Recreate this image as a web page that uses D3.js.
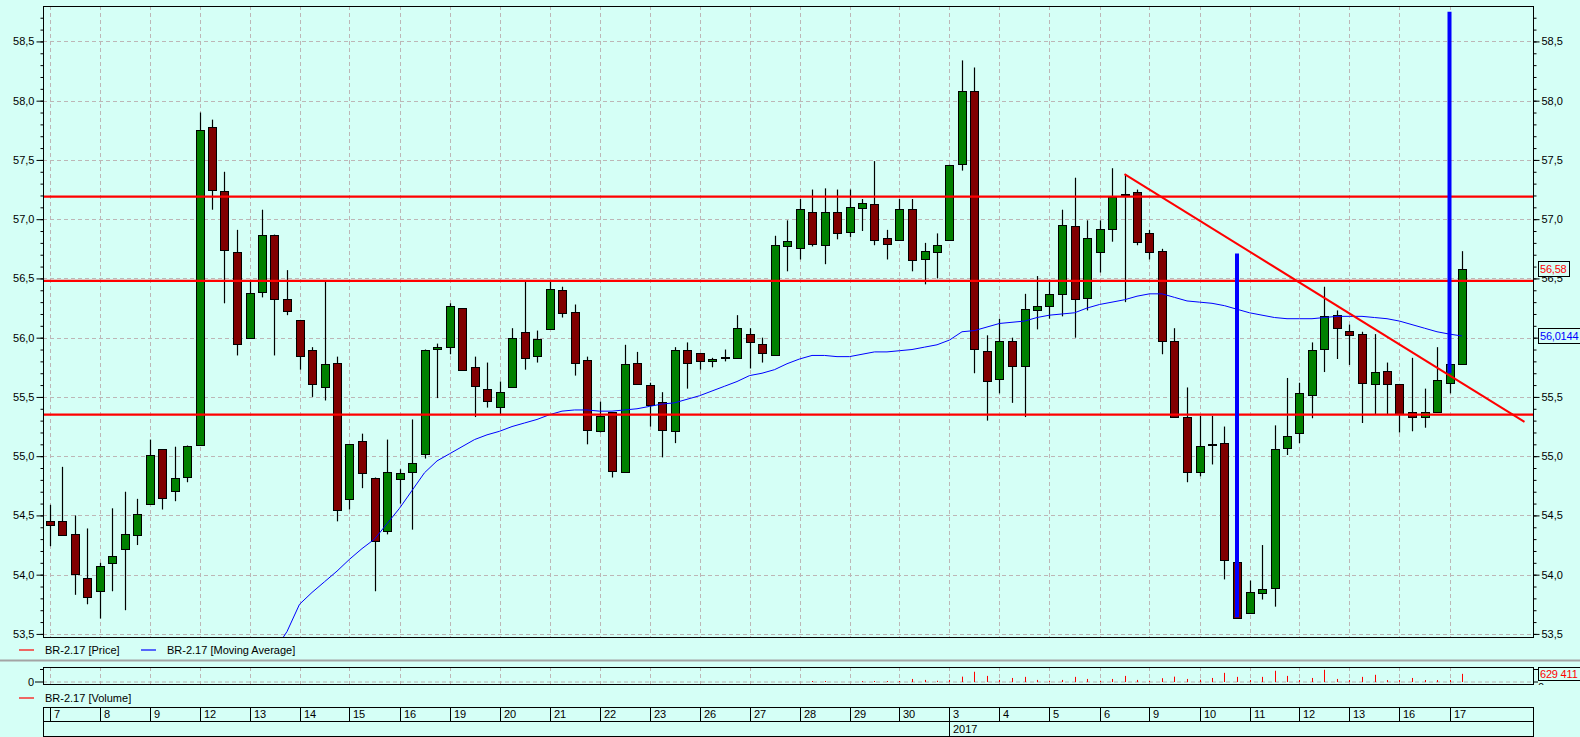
<!DOCTYPE html>
<html><head><meta charset="utf-8">
<script src="https://cdn.jsdelivr.net/npm/d3@7"></script>
<style>
body{margin:0;background:#d5fff6;overflow:hidden}
svg{display:block}
text{font-family:"Liberation Sans",Arial,sans-serif;font-size:11px;fill:#000}
</style></head>
<body><svg id="c" width="1580" height="737"></svg>
<script>
// ---------------- DATA ----------------
const days = ["7","8","9","12","13","14","15","16","19","20","21","22","23","26","27","28","29","30","3","4","5","6","9","10","11","12","13","16","17"];
const candlesPerDay = 4;
const yearLabel = "2017";
const yearStartDay = 18;

const open  = [54.45,54.45,54.34,53.97,53.86,54.10,54.21,54.33,54.60,55.06,54.71,54.83,55.09,57.78,57.24,56.72,56.00,56.39,56.87,56.33,
  56.15,55.90,55.59,55.79,54.64,55.13,54.82,54.37,54.81,54.86,55.02,55.90,55.92,56.25,55.75,55.57,55.41,55.59,56.05,55.85,
  56.07,56.40,56.22,55.81,55.21,55.37,54.87,55.79,55.60,55.46,55.22,55.90,55.87,55.80,55.84,55.83,56.03,55.95,55.85,56.78,
  56.76,57.06,56.78,57.06,56.89,57.10,57.13,56.84,56.83,57.09,56.66,56.72,56.83,57.46,58.08,55.89,55.65,55.97,55.76,56.24,
  56.27,56.37,56.94,56.33,56.73,56.92,57.21,57.23,56.88,56.73,55.97,55.33,54.87,55.10,55.11,54.11,53.67,53.85,53.89,55.07,
  55.19,55.52,55.90,56.19,56.06,56.03,55.61,55.72,55.61,55.37,55.33,55.37,55.62,55.78];
const high  = [54.59,54.91,54.50,54.39,54.10,54.56,54.70,54.64,55.14,55.06,55.08,55.09,57.90,57.84,57.40,56.91,56.47,57.08,56.87,56.57,
  56.15,55.92,56.47,55.84,55.10,55.19,54.82,55.14,54.89,55.31,55.90,55.95,56.29,56.25,55.84,55.79,55.63,56.08,56.47,56.06,
  56.47,56.43,56.28,55.84,55.46,55.37,55.94,55.88,55.62,55.54,55.92,55.96,55.87,55.83,55.90,56.19,56.08,56.00,56.86,56.99,
  57.17,57.25,57.26,57.25,57.25,57.17,57.49,56.91,57.17,57.17,56.80,56.88,57.46,58.34,58.28,56.02,56.16,56.00,56.37,56.52,
  56.47,57.08,57.35,56.99,56.99,57.43,57.38,57.25,56.91,56.75,56.08,55.58,55.34,55.34,55.25,54.11,53.95,54.25,55.26,55.66,
  55.62,55.96,56.43,56.23,56.11,56.05,56.03,55.79,55.61,55.83,55.57,55.92,55.78,56.73];
const low   = [54.24,54.33,53.83,53.75,53.63,53.86,53.70,54.25,54.60,54.55,54.62,54.78,55.09,57.08,56.29,55.85,56.00,56.34,55.85,56.19,
  55.73,55.50,55.47,54.45,54.55,54.73,53.86,54.34,54.60,54.38,54.98,55.49,55.86,55.73,55.33,55.41,55.35,55.59,55.73,55.79,
  56.07,56.17,55.68,55.10,55.20,54.82,54.87,55.61,55.25,54.99,55.11,55.57,55.73,55.75,55.80,55.82,55.74,55.79,55.85,56.56,
  56.66,56.77,56.62,56.83,56.85,56.90,56.78,56.66,56.83,56.56,56.45,56.50,56.83,57.41,55.70,55.30,55.53,55.45,55.33,56.07,
  56.16,56.18,56.00,56.23,56.55,56.81,56.30,56.78,56.66,55.86,55.33,54.78,54.83,54.93,53.96,53.64,53.67,53.79,53.73,55.01,
  55.11,55.32,55.71,55.82,55.77,55.28,55.35,55.35,55.20,55.21,55.24,55.37,55.53,55.78];
const close = [54.42,54.33,54.00,53.81,54.07,54.16,54.34,54.51,55.01,54.65,54.82,55.09,57.75,57.25,56.74,55.94,56.38,56.87,56.33,56.23,
  55.85,55.61,55.78,54.55,55.10,54.86,54.29,54.87,54.86,54.94,55.90,55.92,56.27,55.73,55.59,55.47,55.54,56.00,55.83,55.99,
  56.41,56.21,55.79,55.22,55.34,54.87,55.78,55.61,55.43,55.22,55.90,55.79,55.80,55.82,55.84,56.08,55.96,55.87,56.78,56.82,
  57.09,56.79,57.06,56.88,57.10,57.14,56.83,56.79,57.09,56.66,56.73,56.78,57.46,58.08,55.90,55.64,55.97,55.76,56.24,56.27,
  56.37,56.95,56.32,56.84,56.92,57.19,57.21,56.81,56.72,55.97,55.33,54.87,55.09,55.10,54.12,53.64,53.85,53.88,55.06,55.17,
  55.53,55.90,56.18,56.08,56.03,55.62,55.71,55.61,55.36,55.33,55.37,55.64,55.78,56.58];

const maStart = 18;
const maValues = [53.36,53.52,53.75,53.85,53.94,54.03,54.13,54.22,54.30,54.43,54.56,54.71,54.86,54.96,55.02,55.08,55.14,55.18,55.21,55.25,
  55.28,55.31,55.35,55.38,55.39,55.39,55.38,55.38,55.39,55.40,55.42,55.44,55.45,55.48,55.51,55.55,55.59,55.63,55.68,55.70,
  55.73,55.78,55.82,55.85,55.85,55.84,55.84,55.86,55.88,55.88,55.89,55.90,55.92,55.94,55.98,56.05,56.06,56.09,56.12,56.13,
  56.14,56.17,56.19,56.20,56.21,56.25,56.28,56.30,56.32,56.35,56.37,56.37,56.34,56.31,56.30,56.29,56.27,56.24,56.21,56.19,
  56.17,56.16,56.16,56.16,56.17,56.18,56.18,56.18,56.17,56.16,56.14,56.11,56.08,56.05,56.03,56.0144];

const volStart = 61;
const volValues = [40000,40000,0,0,30000,40000,40000,40000,210000,130000,60000,130000,400000,800000,460000,130000,290000,380000,130000,60000,
  130000,380000,210000,60000,210000,460000,130000,60000,270000,400000,210000,150000,290000,710000,380000,120000,380000,880000,460000,120000,
  290000,960000,210000,120000,380000,550000,120000,120000,290000,120000,120000,120000,629411];

const levels = [57.19, 56.48, 55.35];
const trendIdx = [86, 118];
const trendVal = [57.38, 55.29];
const markerIdx = [95, 112];
const markerTop = [56.71, 58.75];
const markerBottom = [53.64, 55.70];

const yTicks = [53.5,54.0,54.5,55.0,55.5,56.0,56.5,57.0,57.5,58.0,58.5];
const yMinor = [53.5,53.6,53.7,53.8,53.9,54.0,54.1,54.2,54.3,54.4,54.5,54.6,54.7,54.8,54.9,55.0,55.1,55.2,55.3,55.4,55.5,55.6,55.7,55.8,55.9,56.0,56.1,56.2,56.3,56.4,56.5,56.6,56.7,56.8,56.9,57.0,57.1,57.2,57.3,57.4,57.5,57.6,57.7,57.8,57.9,58.0,58.1,58.2,58.3,58.4,58.5,58.6,58.7];
const seriesName = "BR-2.17";
const lastVolLabel = "629 411";

// ---------------- LAYOUT ----------------
const BG = "#d5fff6", GRID = "#bdb6b6", GREEN = "#008000", RED = "#800000";
const P = {l:43, r:1533, t:6, b:637};
const V = {t:667, b:684, base:681.5};
const D = {t:707, m:721, b:736};

const svg = d3.select("#c");
svg.append("rect").attr("width",1580).attr("height",737).attr("fill",BG);

const x = d3.scaleLinear().domain([-0.52, 118.68]).range([P.l, P.r]);
const y = d3.scaleLinear().domain([53.474, 58.799]).range([P.b, P.t]);
const yv = d3.scaleLinear().domain([0, 1190000]).range([V.base, V.t]);
const fmt = d => d.toFixed(1).replace(".", ",");

svg.append("defs").append("clipPath").attr("id","pc")
  .append("rect").attr("x",P.l).attr("y",P.t).attr("width",P.r-P.l).attr("height",P.b-P.t);
svg.select("defs").append("clipPath").attr("id","vc")
  .append("rect").attr("x",1533).attr("y",660).attr("width",60).attr("height",25);

const dayIdx = days.map((d,k)=>k*candlesPerDay);

// grid
const g = svg.append("g");
g.selectAll("line.h").data(yTicks).join("line")
  .attr("x1",P.l).attr("x2",P.r).attr("y1",d=>Math.round(y(d))+0.5).attr("y2",d=>Math.round(y(d))+0.5)
  .attr("stroke",GRID).attr("stroke-dasharray","4,3");
g.selectAll("line.v").data(dayIdx).join("line")
  .attr("x1",d=>Math.round(x(d))+0.5).attr("x2",d=>Math.round(x(d))+0.5).attr("y1",P.t).attr("y2",P.b)
  .attr("stroke",GRID).attr("stroke-dasharray","4,3");

// candles
const idx = d3.range(open.length);
const cg = svg.append("g").attr("clip-path","url(#pc)");
cg.selectAll("line.w").data(idx).join("line")
  .attr("x1",i=>Math.round(x(i))+0.5).attr("x2",i=>Math.round(x(i))+0.5)
  .attr("y1",i=>y(high[i])).attr("y2",i=>y(low[i]))
  .attr("stroke","#000").attr("stroke-width",1.2);
cg.selectAll("rect.b").data(idx).join("rect")
  .attr("x",i=>Math.round(x(i))-4+0.5)
  .attr("width",8)
  .attr("y",i=>Math.round(y(Math.max(open[i],close[i])))+0.5)
  .attr("height",i=>Math.max(1,Math.round(Math.abs(y(open[i])-y(close[i])))))
  .attr("fill",i=>close[i]>open[i]?GREEN:(close[i]<open[i]?RED:"#000"))
  .attr("stroke","#000").attr("stroke-width",1);

// moving average
const maPts = maValues.map((v,k)=>[maStart+k, v]);
svg.append("path").attr("clip-path","url(#pc)")
  .attr("d", d3.line().x(d=>x(d[0])).y(d=>y(d[1]))(maPts))
  .attr("fill","none").attr("stroke","#0000ff").attr("stroke-width",1);

// horizontal levels
svg.append("g").selectAll("line").data(levels).join("line")
  .attr("x1",P.l).attr("x2",P.r).attr("y1",d=>y(d)).attr("y2",d=>y(d))
  .attr("stroke","#ff0000").attr("stroke-width",2.2);

// trend line
svg.append("line").attr("clip-path","url(#pc)")
  .attr("x1",x(trendIdx[0])).attr("y1",y(trendVal[0]))
  .attr("x2",x(trendIdx[1])).attr("y2",y(trendVal[1]))
  .attr("stroke","#ff0000").attr("stroke-width",2);

// blue markers
svg.append("g").selectAll("line").data(markerIdx).join("line")
  .attr("x1",d=>x(d)).attr("x2",d=>x(d))
  .attr("y1",(d,k)=>y(markerTop[k])).attr("y2",(d,k)=>y(markerBottom[k]))
  .attr("stroke","#0000ff").attr("stroke-width",4);

// plot border
svg.append("rect").attr("x",P.l+0.5).attr("y",P.t+0.5).attr("width",P.r-P.l).attr("height",P.b-P.t)
  .attr("fill","none").attr("stroke","#000");

// axes
function styleAxis(sel){ sel.select(".domain").remove(); sel.selectAll("line").attr("stroke","#000"); sel.selectAll("text").attr("fill","#000").style("font-size","11px"); }
svg.append("g").attr("transform",`translate(${P.r+0.5},0)`)
  .call(d3.axisRight(y).tickValues(yMinor).tickSize(3).tickFormat("")).call(styleAxis);
svg.append("g").attr("transform",`translate(${P.r+0.5},0)`)
  .call(d3.axisRight(y).tickValues(yTicks).tickSize(6).tickPadding(2).tickFormat(fmt)).call(styleAxis);
svg.append("g").attr("transform",`translate(${P.l+0.5},0)`)
  .call(d3.axisLeft(y).tickValues(yMinor).tickSize(3).tickFormat("")).call(styleAxis);
svg.append("g").attr("transform",`translate(${P.l+0.5},0)`)
  .call(d3.axisLeft(y).tickValues(yTicks).tickSize(7).tickPadding(2).tickFormat(fmt)).call(styleAxis);

// last value labels
function valueBox(val, text, color, w){
  const cy = y(val);
  svg.append("rect").attr("x",1538.5).attr("y",Math.round(cy)-7.5).attr("width",w).attr("height",15)
    .attr("fill",BG).attr("stroke","#000");
  svg.append("text").attr("x",1540).attr("y",cy+4).style("fill",color).style("font-size","11px")
    .style("letter-spacing","-0.2px").text(text);
}
valueBox(close[close.length-1], close[close.length-1].toFixed(2).replace(".",","), "#ff0000", 31);
valueBox(maValues[maValues.length-1], maValues[maValues.length-1].toFixed(4).replace(".",","), "#0000ff", 44);

// legend
function legend(lx, ly, color, label){
  svg.append("line").attr("x1",lx).attr("x2",lx+15).attr("y1",ly).attr("y2",ly).attr("stroke",color).attr("stroke-width",1.2);
  svg.append("text").attr("x",lx+26).attr("y",ly+4).text(label);
}
legend(19, 650, "#ff0000", seriesName+" [Price]");
legend(141, 650, "#0000ff", seriesName+" [Moving Average]");
svg.append("line").attr("x1",0).attr("x2",1580).attr("y1",660.5).attr("y2",660.5).attr("stroke","#a4a4a4").attr("stroke-width",2);

// volume pane
const vg = svg.append("g");
vg.append("line").attr("x1",P.l).attr("x2",P.r).attr("y1",V.base+0.5).attr("y2",V.base+0.5)
  .attr("stroke",GRID).attr("stroke-dasharray","4,3");
vg.selectAll("line.v").data(dayIdx).join("line")
  .attr("x1",d=>Math.round(x(d))+0.5).attr("x2",d=>Math.round(x(d))+0.5).attr("y1",V.t).attr("y2",V.b)
  .attr("stroke",GRID).attr("stroke-dasharray","4,3");
const vPts = volValues.map((v,k)=>[volStart+k, v]).filter(d=>d[1]>0);
vg.selectAll("line.bar").data(vPts).join("line")
  .attr("x1",d=>Math.round(x(d[0]))+0.5).attr("x2",d=>Math.round(x(d[0]))+0.5)
  .attr("y1",V.base+0.5).attr("y2",d=>yv(d[1]))
  .attr("stroke","#ff0000").attr("stroke-width",1);
vg.append("rect").attr("x",P.l+0.5).attr("y",V.t+0.5).attr("width",P.r-P.l).attr("height",V.b-V.t)
  .attr("fill","none").attr("stroke","#000");
// left volume axis
vg.append("line").attr("x1",P.l-3).attr("x2",P.l).attr("y1",669.5).attr("y2",669.5).attr("stroke","#000");
vg.append("line").attr("x1",P.l-8).attr("x2",P.l).attr("y1",V.base+0.5).attr("y2",V.base+0.5).attr("stroke","#000");
vg.append("text").attr("x",P.l-9).attr("y",V.base+4).attr("text-anchor","end").text("0");
// right volume axis
const rv = svg.append("g").attr("clip-path","url(#vc)");
rv.append("line").attr("x1",P.r).attr("x2",P.r+5).attr("y1",669.5).attr("y2",669.5).attr("stroke","#000");
rv.append("line").attr("x1",P.r).attr("x2",P.r+5).attr("y1",V.base+0.5).attr("y2",V.base+0.5).attr("stroke","#000");
rv.append("text").attr("x",P.r+5).attr("y",V.base+9).text("0");
svg.append("rect").attr("x",1538.5).attr("y",667.5).attr("width",44).attr("height",13).attr("fill",BG).attr("stroke","#000");
svg.append("text").attr("x",1540).attr("y",678).style("fill","#ff0000").style("font-size","11px")
  .style("letter-spacing","-0.2px").text(lastVolLabel);
legend(19, 698, "#ff0000", seriesName+" [Volume]");

// date axis
const dg = svg.append("g");
dg.append("rect").attr("x",P.l+0.5).attr("y",D.t+0.5).attr("width",P.r-P.l).attr("height",D.b-D.t)
  .attr("fill","none").attr("stroke","#000");
dg.append("line").attr("x1",P.l).attr("x2",P.r).attr("y1",D.m+0.5).attr("y2",D.m+0.5).attr("stroke","#000");
dg.selectAll("line.d").data(dayIdx).join("line")
  .attr("x1",d=>Math.round(x(d))+0.5).attr("x2",d=>Math.round(x(d))+0.5).attr("y1",D.t).attr("y2",D.m)
  .attr("stroke","#000");
dg.selectAll("text.d").data(days).join("text")
  .attr("x",(d,k)=>Math.round(x(dayIdx[k]))+4).attr("y",D.m-3).text(d=>d);
const yx = Math.round(x(dayIdx[yearStartDay]))+0.5;
dg.append("line").attr("x1",yx).attr("x2",yx).attr("y1",D.m).attr("y2",D.b).attr("stroke","#000");
dg.append("text").attr("x",yx+3.5).attr("y",D.b-3).text(yearLabel);
</script></body></html>
